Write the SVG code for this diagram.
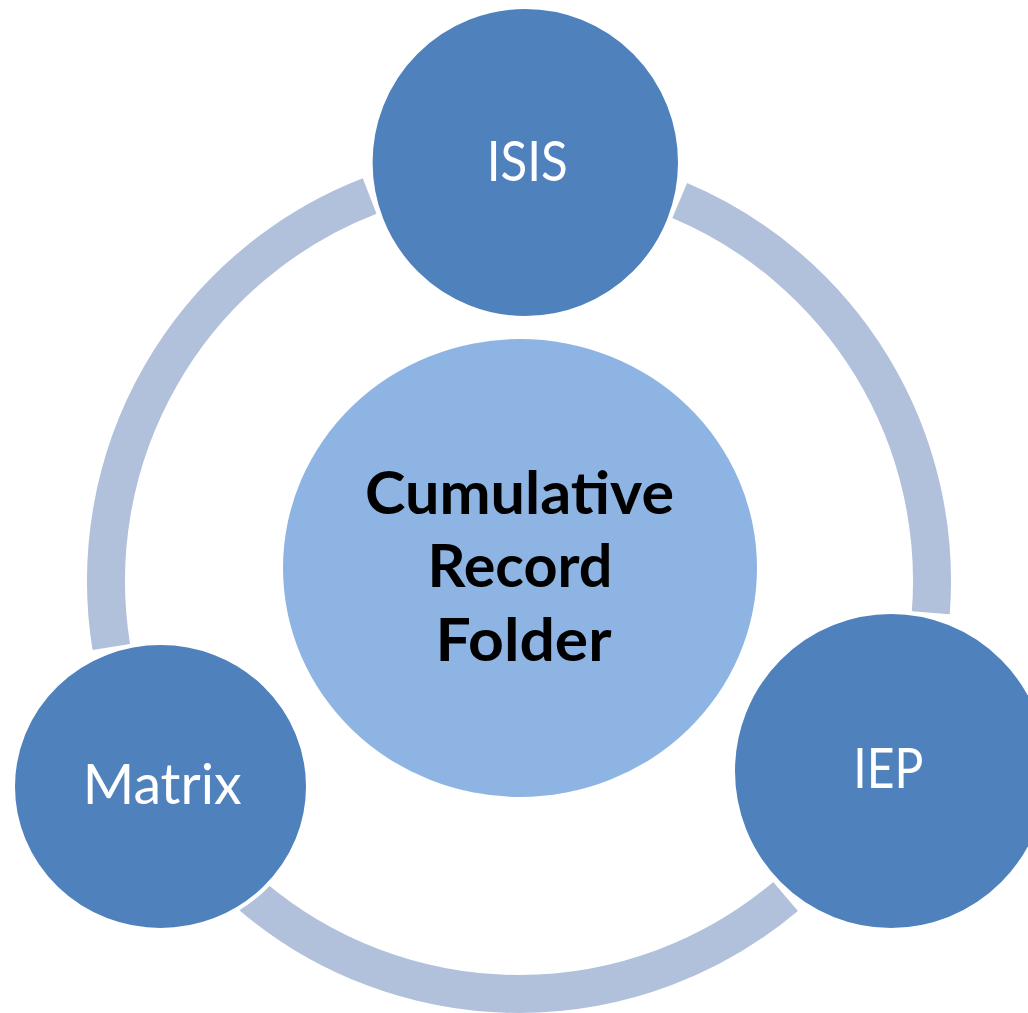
<svg xmlns="http://www.w3.org/2000/svg" width="1028" height="1013" viewBox="0 0 1028 1013">
<style>
.ring{fill:none;stroke:#B1C1DC;stroke-width:38;stroke-linecap:butt}
.node{fill:#4F81BD;stroke:#FFFFFF;stroke-width:4}
.center{fill:#8EB4E3}
.lbl{font-family:Lato,"Liberation Sans",sans-serif;font-size:56px;fill:#FFFFFF;text-anchor:middle}
.clbl{font-family:Lato,"Liberation Sans",sans-serif;font-size:59px;font-weight:bold;fill:#000000;text-anchor:middle}
</style>
<rect width="1028" height="1013" fill="#FFFFFF"/>
<g id="connectors">
<path class="ring" d="M111.3,647.0 A413,413 0 0 1 369.65,195.95"/>
<path class="ring" d="M679.7,200.55 A413,413 0 0 1 930.8,612.7"/>
<path class="ring" d="M785.6,896.4 A413,413 0 0 1 251.9,896.0"/>
</g>
<g id="center">
<ellipse class="center" cx="520" cy="568" rx="237" ry="229"/>
<text class="clbl" x="519.5" y="514" textLength="309" lengthAdjust="spacingAndGlyphs">Cumulative</text>
<text class="clbl" x="520" y="587" textLength="185" lengthAdjust="spacingAndGlyphs">Record</text>
<text class="clbl" x="523.5" y="660.5" textLength="176" lengthAdjust="spacingAndGlyphs">Folder</text>
</g>
<g id="isis">
<ellipse class="node" cx="525.3" cy="162.5" rx="154.7" ry="155.5"/>
<text class="lbl" x="527.2" y="181" textLength="81" lengthAdjust="spacingAndGlyphs">ISIS</text>
</g>
<g id="iep">
<ellipse class="node" cx="891" cy="771" rx="158" ry="159"/>
<text class="lbl" x="888.3" y="788" textLength="70" lengthAdjust="spacingAndGlyphs">IEP</text>
</g>
<g id="matrix">
<ellipse class="node" cx="160.5" cy="786.5" rx="147.5" ry="143.5"/>
<text class="lbl" x="162.2" y="804" textLength="159" lengthAdjust="spacingAndGlyphs">Matrix</text>
</g>
</svg>
